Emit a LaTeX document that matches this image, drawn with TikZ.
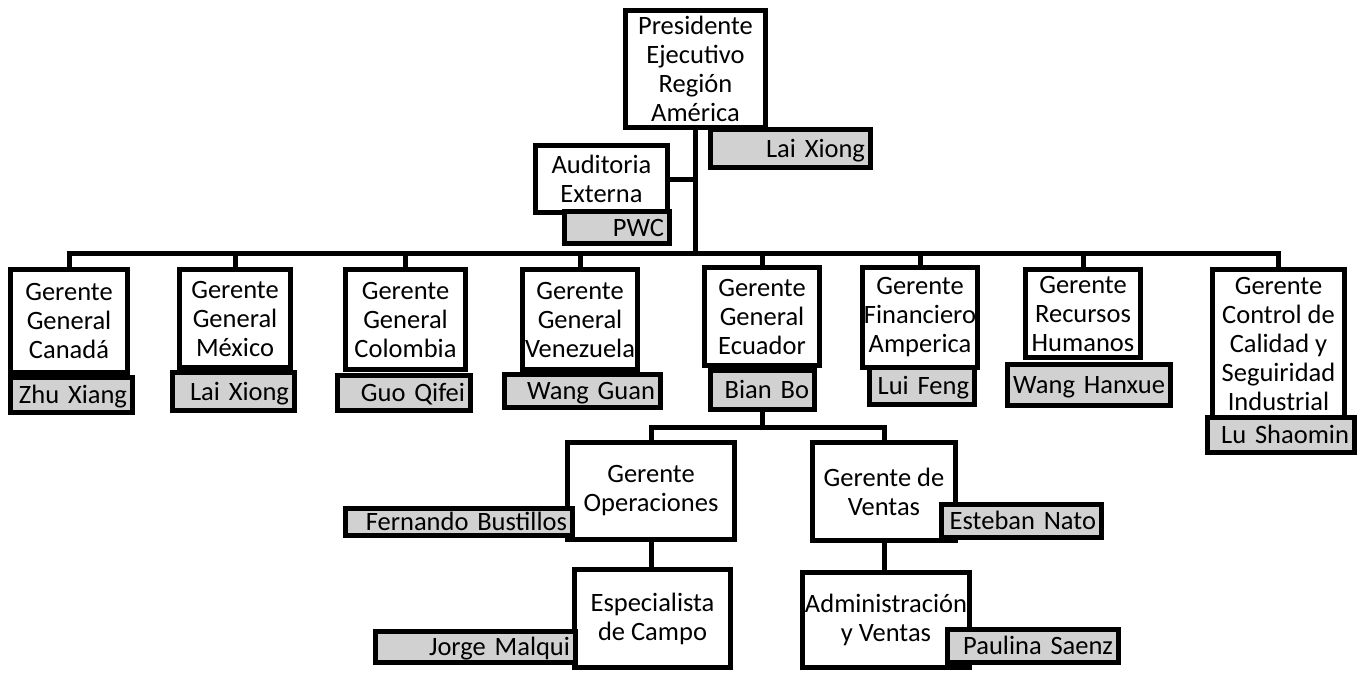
\documentclass[tikz,border=0pt]{standalone}
\usepackage{fontspec}
\setmainfont{Carlito}
\definecolor{tagfill}{gray}{0.82}
\begin{document}
\begin{tikzpicture}[x=1pt,y=-1pt,
  every node/.style={font=\fontsize{26.5}{29}\selectfont},
  unitbox/.style 2 args={draw, line width=5pt, fill=white, align=center,
    inner sep=0pt, minimum width=#1pt, minimum height=#2pt},
  nametag/.style 2 args={draw, line width=5pt, fill=tagfill, align=right,
    inner xsep=5.5pt, inner ysep=0pt, text height=17pt, text depth=0pt,
    minimum width=#1pt, minimum height=#2pt, text width={#1pt-11pt}},
  link/.style={line width=5pt}]
\useasboundingbox (0,0) rectangle (1364,672);

% top level
\node[unitbox={140}{117}] (pres) at (695.5,69) {Presidente\\Ejecutivo\\Región\\América};
\node[unitbox={132}{67}] (aud) at (601.5,179) {Auditoria\\Externa};

% country and area managers
\node[unitbox={117}{103}] (can) at (69,321) {Gerente\\General\\Canadá};
\node[unitbox={111}{98}] (mex) at (235,318.5) {Gerente\\General\\México};
\node[unitbox={120}{100}] (col) at (405.5,319.5) {Gerente\\General\\Colombia};
\node[unitbox={115}{100}] (ven) at (580,319.5) {Gerente\\General\\Venezuela};
\node[unitbox={115}{98}] (ecu) at (762,316.5) {Gerente\\General\\Ecuador};
\node[unitbox={115}{100}] (fin) at (920,317.5) {Gerente\\Financiero\\Amperica};
\node[unitbox={115}{88}] (rh) at (1083,313.5) {Gerente\\Recursos\\Humanos};
\node[unitbox={132}{148}] (ctl) at (1278.5,343.5) {Gerente\\Control de\\Calidad y\\Seguiridad\\Industrial};

% Ecuador branch
\node[unitbox={167}{97}] (ops) at (651,491) {Gerente\\Operaciones};
\node[unitbox={143}{98}] (vtas) at (884,491.5) {Gerente de\\Ventas};
\node[unitbox={156}{98}] (esp) at (652.5,618.5) {Especialista\\de Campo};
\node[unitbox={167}{95}] (adm) at (886,620) {Administración\\y Ventas};

% name tags
\node[nametag={160}{38}] (tpres) at (790.5,148.5) {Lai Xiong};
\node[nametag={105}{32}] (taud) at (617,227.5) {PWC};
\node[nametag={122}{35}] (tcan) at (71.5,395) {Zhu Xiang};
\node[nametag={122}{38}] (tmex) at (233.5,391.5) {Lai Xiong};
\node[nametag={133}{35}] (tcol) at (404,393) {Guo Qifei};
\node[nametag={156}{33}] (tven) at (582.5,391) {Wang Guan};
\node[nametag={104}{39}] (tecu) at (762.5,390) {Bian Bo};
\node[nametag={105}{37}] (tfin) at (922,386) {Lui Feng};
\node[nametag={163}{41}] (trh) at (1089,385) {Wang Hanxue};
\node[nametag={147}{35}] (tctl) at (1281,435) {Lu Shaomin};
\node[nametag={227}{27}] (tops) at (459,522) {Fernando Bustillos};
\node[nametag={160}{33}] (tvtas) at (1021.5,521) {Esteban Nato};
\node[nametag={200}{31}] (tesp) at (475.5,647) {Jorge Malqui};
\node[nametag={171}{33}] (tadm) at (1033,646) {Paulina Saenz};

% connectors
\coordinate (bus) at (0,253);
\coordinate (subbus) at (0,427);
\draw[link] (pres.south) -- (pres.south |- bus);
\draw[link] (aud.east) -- (aud.east -| pres.south);
\draw[link] (can.north) -- (can.north |- bus) -- (ctl.north |- bus) -- (ctl.north);
\foreach \n in {mex,col,ven,ecu,fin,rh}
  \draw[link] (\n.north) -- (\n.north |- bus);
\draw[link] (tecu.south) -- (tecu.south |- subbus);
\draw[link] (ops.north) -- (ops.north |- subbus) -- (vtas.north |- subbus) -- (vtas.north);
\draw[link] (ops.south) -- (ops.south |- esp.north);
\draw[link] (vtas.south) -- (vtas.south |- adm.north);
\end{tikzpicture}
\end{document}
